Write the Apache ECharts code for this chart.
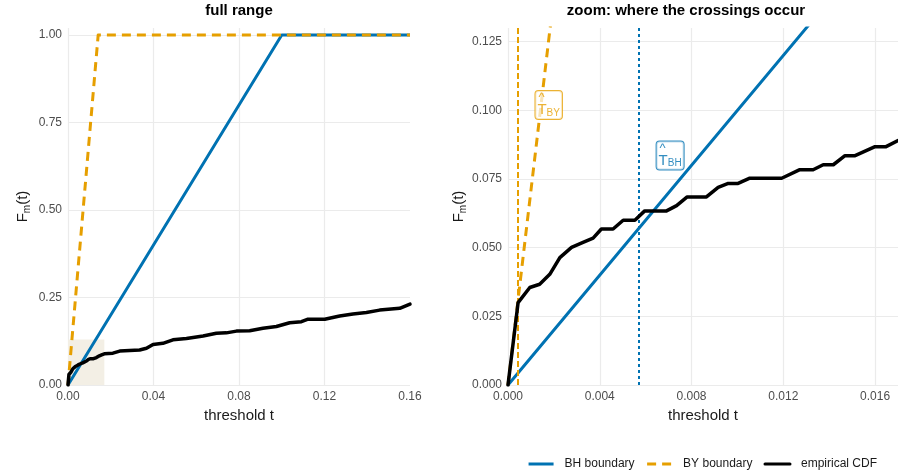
<!DOCTYPE html>
<html><head><meta charset="utf-8">
<script src="https://cdn.jsdelivr.net/npm/echarts@6/dist/echarts.min.js"></script>
<style>html,body{margin:0;padding:0;background:#fff}#c{width:898px;height:472px}</style>
</head><body><div id="c"></div>
<script>
// empirical CDF (threshold t, F_m(t))
const cdfT = [0, 0.00044, 0.00095, 0.00138, 0.00182, 0.00226, 0.00277, 0.00327, 0.00371, 0.00407, 0.00458, 0.00502, 0.00553, 0.00596, 0.00691, 0.00735, 0.00781, 0.00865, 0.00916, 0.0096, 0.01003, 0.01054, 0.01193, 0.01272, 0.0133, 0.01374, 0.01418, 0.01469, 0.01513, 0.016, 0.01648, 0.0170, 0.021, 0.0242, 0.0335, 0.0367, 0.0398, 0.0444, 0.0491, 0.0554, 0.0632, 0.0694, 0.0741, 0.0788, 0.085, 0.0912, 0.0975, 0.1037, 0.1092, 0.1123, 0.1201, 0.1271, 0.1333, 0.1396, 0.1458, 0.1552, 0.16];
const cdfF = [0, 0.030, 0.0355, 0.0367, 0.0403, 0.0464, 0.0501, 0.0519, 0.0535, 0.0568, 0.0568, 0.0600, 0.0600, 0.0634, 0.0634, 0.0653, 0.0685, 0.0685, 0.0720, 0.0734, 0.0734, 0.0753, 0.0753, 0.0784, 0.0784, 0.0802, 0.0802, 0.0835, 0.0835, 0.0868, 0.0868, 0.0890, 0.091, 0.097, 0.100, 0.105, 0.116, 0.119, 0.129, 0.133, 0.140, 0.148, 0.149, 0.154, 0.155, 0.162, 0.167, 0.178, 0.181, 0.188, 0.188, 0.197, 0.203, 0.207, 0.214, 0.219, 0.231];
// boundaries
const bhT = [0, 0.1, 0.16];
const bhF = [0, 1, 1];
const byT = [0, 0.01412, 0.16];
const byF = [0, 1, 1];
// axis ranges
const fullX = [0, 0.16], fullY = [0, 1.02];
const zoomX = [0, 0.017], zoomY = [0, 0.13];
const fullXStep = 0.04, fullYStep = 0.25, zoomXStep = 0.004, zoomYStep = 0.025;
// crossing thresholds and their labels
const tBY = 0.00041, tBH = 0.0057;
const labelBY = [0.00172, 0.102], labelBH = [0.0070, 0.0836];
const seriesNames = ['BH boundary', 'BY boundary', 'empirical CDF'];
const titles = ['full range', 'zoom: where the crossings occur'];

const BLUE = '#0072B2', ORANGE = '#E69F00', BLACK = '#000000';
const FONT = 'Liberation Sans';
const pairs = (xs, ys) => xs.map((x, i) => [x, ys[i]]);

function xAxis(idx, range, step, digits) {
  return {
    type: 'value', gridIndex: idx, min: range[0], max: range[1], interval: step,
    axisLine: {show: false}, axisTick: {show: false},
    splitLine: {show: true, showMaxLine: false, lineStyle: {color: '#EBEBEB', width: 1.2}},
    axisLabel: {formatter: v => v.toFixed(digits), color: '#4D4D4D', fontSize: 12, fontFamily: FONT, margin: 6, showMaxLabel: idx === 0},
    name: 'threshold t', nameLocation: 'middle', nameGap: 16,
    nameTextStyle: {fontSize: 15, color: '#1A1A1A', fontFamily: FONT, verticalAlign: 'top'}
  };
}
function yAxis(idx, range, step, digits, gap) {
  return {
    type: 'value', gridIndex: idx, min: range[0], max: range[1], interval: step,
    axisLine: {show: false}, axisTick: {show: false},
    splitLine: {show: true, showMaxLine: false, lineStyle: {color: '#EBEBEB', width: 1.2}},
    axisLabel: {formatter: v => v.toFixed(digits), color: '#4D4D4D', fontSize: 12, fontFamily: FONT, margin: 6, showMaxLabel: false},
    name: '{f|F}{s|m}{f|(t)}', nameLocation: 'middle', nameGap: gap, nameRotate: 90,
    nameTextStyle: {fontFamily: FONT, color: '#1A1A1A',
      rich: {f: {fontSize: 15, fontFamily: FONT, color: '#1A1A1A', lineHeight: 18},
             s: {fontSize: 10, fontFamily: FONT, color: '#1A1A1A', verticalAlign: 'bottom', padding: [6, 0, 0, 0]}}}
  };
}
function boxLabel(color, sub) {
  return {
    show: true, position: 'inside', offset: [-12, 0], formatter: '{h|^}\n{t|T}{s|' + sub + '}',
    backgroundColor: 'rgba(255,255,255,0.9)', borderColor: color, borderWidth: 1, borderRadius: 3,
    padding: [3, 2, 1, 2], align: 'left',
    rich: {
      h: {fontSize: 13, color: color, fontFamily: FONT, lineHeight: 8, padding: [0, 0, 0, 1]},
      t: {fontSize: 15, color: color, fontFamily: FONT, lineHeight: 16},
      s: {fontSize: 10, color: color, fontFamily: FONT, verticalAlign: 'bottom', lineHeight: 12}
    }
  };
}
function lineSeries(name, idx, data, color, width, type, z) {
  return {
    name: name, type: 'line', xAxisIndex: idx, yAxisIndex: idx, data: data,
    symbol: 'none', showSymbol: false, clip: true, z: z, silent: true,
    lineStyle: {color: color, width: width, type: type, join: 'round', cap: 'butt'},
    itemStyle: {color: color}
  };
}

const series = [];
// shaded zoom window on the full-range panel
series.push({type: 'line', xAxisIndex: 0, yAxisIndex: 0, data: [], z: 1, silent: true,
  markArea: {silent: true, itemStyle: {color: '#F3EFE5'},
    data: [[{coord: [zoomX[0], zoomY[0]]}, {coord: [zoomX[1], zoomY[1]]}]]}});
[0, 1].forEach(idx => {
  series.push(lineSeries(seriesNames[0], idx, pairs(bhT, bhF), BLUE, 3, 'solid', 3));
  series.push(lineSeries(seriesNames[1], idx, pairs(byT, byF), ORANGE, 3, [9, 6], 4));
  series.push(Object.assign(lineSeries(seriesNames[2], idx, pairs(cdfT, cdfF), BLACK, 3.5, 'solid', 5),
    {lineStyle: {color: BLACK, width: 3.5, join: 'round', cap: 'round'}}));
});
// vertical crossing lines on zoom panel
series.push({type: 'line', xAxisIndex: 1, yAxisIndex: 1, data: [], z: 6, silent: true,
  markLine: {silent: true, precision: 6, symbol: ['none', 'none'], label: {show: false},
    data: [
      {xAxis: tBY, lineStyle: {color: ORANGE, type: [6, 3], width: 2}},
      {xAxis: tBH, lineStyle: {color: BLUE, type: [3, 3], width: 2}}
    ]}});
// labels
series.push({type: 'scatter', xAxisIndex: 1, yAxisIndex: 1, data: [labelBY], symbolSize: 1, z: 7, silent: true,
  itemStyle: {color: 'rgba(0,0,0,0)'}, label: boxLabel(ORANGE, 'BY')});
series.push({type: 'scatter', xAxisIndex: 1, yAxisIndex: 1, data: [labelBH], symbolSize: 1, z: 7, silent: true,
  itemStyle: {color: 'rgba(0,0,0,0)'}, label: boxLabel(BLUE, 'BH')});

const chart = echarts.init(document.getElementById('c'), null, {renderer: 'canvas'});
chart.setOption({
  animation: false,
  backgroundColor: '#FFFFFF',
  textStyle: {fontFamily: FONT},
  grid: [
    {left: 68, top: 28, width: 342, height: 357},
    {left: 508, top: 28, width: 390, height: 357}
  ],
  xAxis: [xAxis(0, fullX, fullXStep, 2), xAxis(1, zoomX, zoomXStep, 3)],
  yAxis: [yAxis(0, fullY, fullYStep, 2, 36), yAxis(1, zoomY, zoomYStep, 3, 39)],
  legend: {
    data: seriesNames, top: 453, right: 16, itemWidth: 25, itemHeight: 12, itemGap: 11,
    itemStyle: {opacity: 0}, lineStyle: {width: 3},
    textStyle: {fontSize: 12, color: '#1A1A1A', fontFamily: FONT, padding: [0, 0, 0, 6]}
  },
  graphic: [
    {type: 'text', x: 239, y: 3, style: {text: titles[0], textAlign: 'center', font: 'bold 15px "Liberation Sans"', fill: '#000'}},
    {type: 'text', x: 686, y: 3, style: {text: titles[1], textAlign: 'center', font: 'bold 15px "Liberation Sans"', fill: '#000'}}
  ],
  series: series
});
</script></body></html>
